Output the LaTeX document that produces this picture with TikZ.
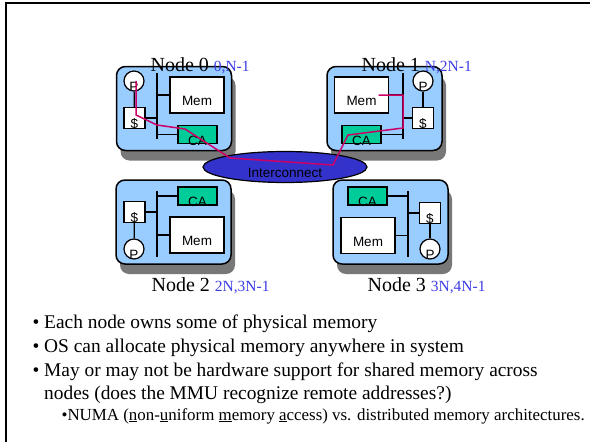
\documentclass[tikz,border=0pt]{standalone}
\usepackage{fontspec}
\setmainfont{Liberation Serif}
\setsansfont{Liberation Sans}
\usetikzlibrary{shapes.geometric,shadows}
\definecolor{boxblue}{RGB}{153,204,255}
\definecolor{cagreen}{RGB}{0,204,153}
\definecolor{netblue}{RGB}{51,51,204}
\definecolor{pathred}{RGB}{204,0,102}
\definecolor{rangeblue}{RGB}{60,60,230}
\definecolor{shade}{RGB}{120,120,120}

\begin{document}
\begin{tikzpicture}[x=1pt, y=-1pt, line width=1.2pt,
    nodebox/.style={draw, line width=1.5pt, rounded corners=9pt, fill=boxblue,
      minimum width=115pt, minimum height=84pt,
      drop shadow={shadow xshift=4pt, shadow yshift=-10pt, fill=shade, opacity=1}},
    lowtext/.style={label={[yshift=-6pt, font=\sffamily\fontsize{13.5}{14}\selectfont]center:#1}},
    membox/.style={draw, fill=white, minimum width=54pt, minimum height=36pt, inner sep=0pt, lowtext=Mem},
    cabox/.style={draw, fill=cagreen, minimum width=39pt, minimum height=18pt, inner sep=0pt, lowtext=CA},
    cachebox/.style={draw, fill=white, minimum size=21pt, inner sep=0pt, lowtext=\$},
    proc/.style={draw, circle, fill=white, minimum size=20pt, inner sep=0pt, lowtext=P},
    title/.style={anchor=base west, inner sep=0pt, font=\fontsize{20}{24}\selectfont},
    bodytext/.style={anchor=base west, inner sep=0pt, font=\fontsize{19.4}{22}\selectfont}]
  \useasboundingbox (0,0) rectangle (590,442);
  % slide frame
  \draw[line width=2pt] (6,442) -- (6,3) -- (590,3);

  % node 0
  \node[nodebox] (n0) at (174,108.5) {};
  \coordinate (b0t) at (157,73);
  \coordinate (b0b) at (157,139);
  \draw (b0t) -- (b0b);
  \node[proc] (p0) at (134,81) {};
  \node[cachebox] (c0) at (134.5,118) {};
  \node[membox] (m0) at (197,95) {};
  \node[cabox] (ca0) at (197.5,134.5) {};
  \draw (p0) -- (c0);
  \draw (c0.east) -- (c0.east -| b0t);
  \draw (m0.west) -- (m0.west -| b0t);
  \draw (ca0.west) -- (ca0.west -| b0t);

  % node 1
  \node[nodebox] (n1) at (384.5,108.5) {};
  \coordinate (b1t) at (403,73);
  \coordinate (b1b) at (403,139);
  \draw (b1t) -- (b1b);
  \node[proc] (p1) at (423,81) {};
  \node[cachebox] (c1) at (423,118) {};
  \node[membox] (m1) at (361.5,95) {};
  \node[cabox] (ca1) at (361.5,134.5) {};
  \draw (p1) -- (c1);
  \draw (c1.west) -- (c1.west -| b1t);
  \draw (m1.east) -- (m1.east -| b1t);
  \draw (ca1.east) -- (ca1.east -| b1t);

  % node 2
  \node[nodebox] (n2) at (173.5,222) {};
  \coordinate (b2t) at (157,191);
  \coordinate (b2b) at (157,257);
  \draw (b2t) -- (b2b);
  \node[cabox] (ca2) at (197.5,196) {};
  \node[cachebox] (c2) at (134.5,212) {};
  \node[membox] (m2) at (197,235) {};
  \node[proc] (p2) at (134,249) {};
  \draw (p2) -- (c2);
  \draw (c2.east) -- (c2.east -| b2t);
  \draw (m2.west) -- (m2.west -| b2t);
  \draw (ca2.west) -- (ca2.west -| b2t);

  % node 3
  \node[nodebox] (n3) at (390.5,222) {};
  \coordinate (b3t) at (408,191);
  \coordinate (b3b) at (408,257);
  \draw (b3t) -- (b3b);
  \node[cabox] (ca3) at (367.5,196) {};
  \node[cachebox] (c3) at (430,213) {};
  \node[membox] (m3) at (368,235.5) {};
  \node[proc] (p3) at (430,249) {};
  \draw (p3) -- (c3);
  \draw (c3.west) -- (c3.west -| b3t);
  \draw (m3.east) -- (m3.east -| b3t);
  \draw (ca3.east) -- (ca3.east -| b3t);

  % interconnect
  \node[ellipse, draw, fill=netblue, minimum width=164pt, minimum height=31pt,
    lowtext=Interconnect] (net) at (285,167) {};

  % remote access path
  \draw[pathred, line width=1.5pt] ([xshift=2pt]p0.center) -- (136,115) -- (157,125)
    -- (185,129) -- (230,158) -- (333,165) -- (348,135) -- (403,128) -- (403,95)
    -- ([xshift=17pt]m1.center);

  % titles
  \node[title] (t0) at (150,71) {Node 0 \textcolor{rangeblue}{\fontsize{15.5}{18}\selectfont 0,N-1}};
  \node[title] (t1) at (361,71) {Node 1 \textcolor{rangeblue}{\fontsize{15.5}{18}\selectfont N,2N-1}};
  \node[title] (t2) at (151,291) {Node 2 \textcolor{rangeblue}{\fontsize{15.5}{18}\selectfont 2N,3N-1}};
  \node[title] (t3) at (367,291) {Node 3 \textcolor{rangeblue}{\fontsize{15.5}{18}\selectfont 3N,4N-1}};

  % bullet text
  \node[bodytext] (l1) at (32,328) {\textbullet\ Each node owns some of physical memory};
  \node[bodytext] (l2) at (32,352) {\textbullet\ OS can allocate physical memory anywhere in system};
  \node[bodytext] (l3) at (32,376) {\textbullet\ May or may not be hardware support for shared memory across};
  \node[bodytext] (l4) at (43.6,399) {nodes (does the MMU recognize remote addresses?)};
  \node[bodytext, font=\fontsize{16.9}{18}\selectfont] (l5) at (61,420)
    {\textbullet NUMA (\underline{n}on-\underline{u}niform \underline{m}emory \underline{a}ccess) vs. distributed memory architectures.};
\end{tikzpicture}
\end{document}
